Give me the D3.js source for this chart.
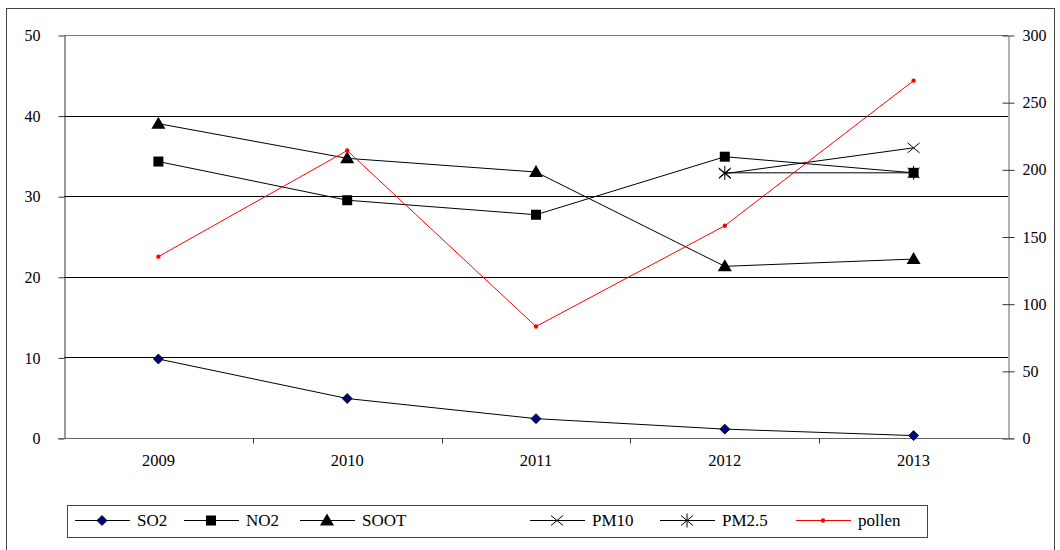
<!DOCTYPE html>
<html>
<head>
<meta charset="utf-8">
<script src="https://cdn.jsdelivr.net/npm/d3@7"></script>
<style>
  body { margin: 0; background: #fff; }
  svg text { font-family: "Liberation Serif", "Times New Roman", serif; fill: #000; }
</style>
</head>
<body>
<div id="chart"></div>
<script>
// data
var years = ["2009", "2010", "2011", "2012", "2013"];
var so2 = [9.8, 4.9, 2.4, 1.1, 0.3];
var no2 = [34.3, 29.5, 27.7, 34.9, 32.9];
var soot = [39.0, 34.7, 33.0, 21.3, 22.2];
var pm10 = [null, null, null, 32.8, 36.0];
var pm25 = [null, null, null, 32.9, 32.9];
var pollen = [135, 214, 83, 158, 266];   // right axis
var leftTicks = [0, 10, 20, 30, 40, 50];
var rightTicks = [0, 50, 100, 150, 200, 250, 300];

var width = 1060, height = 550;
var plotL = 64, plotR = 1008, plotT = 35, plotB = 438;

var svg = d3.select("#chart").append("svg")
    .attr("width", width)
    .attr("height", height);

// outer frame
svg.append("rect")
    .attr("x", 6.5).attr("y", 8.5)
    .attr("width", 1048).attr("height", 560)
    .attr("fill", "none").attr("stroke", "#444").attr("stroke-width", 1);

var x = d3.scaleBand().domain(years).range([plotL, plotR]).padding(0);
var yL = d3.scaleLinear().domain([0, 50]).range([plotB, plotT]);
var yR = d3.scaleLinear().domain([0, 300]).range([plotB, plotT]);

// gridlines
svg.append("g").selectAll("line")
    .data(leftTicks.filter(function (d) { return d > 0; }))
    .join("line")
    .attr("x1", plotL).attr("x2", plotR)
    .attr("y1", function (d) { return Math.round(yL(d)) + 0.5; })
    .attr("y2", function (d) { return Math.round(yL(d)) + 0.5; })
    .attr("stroke", function (d) { return d == 50 ? "#777" : "#000"; })
    .attr("stroke-width", 1);

// left axis
var leftAxis = svg.append("g")
    .attr("transform", "translate(" + (plotL + 0.5) + ",0.5)")
    .call(d3.axisLeft(yL).tickValues(leftTicks).tickSize(6).tickPadding(18).tickSizeOuter(0));
leftAxis.select(".domain").attr("stroke", "#333");
leftAxis.selectAll(".tick line").attr("stroke", "#333");
leftAxis.selectAll("text").style("font-size", "16px").attr("fill", "#000");

// right axis, ticks cross the line
var rightAxis = svg.append("g")
    .attr("transform", "translate(" + (plotR + 0.5) + ",0.5)")
    .call(d3.axisRight(yR).tickValues(rightTicks).tickSize(6).tickPadding(8).tickSizeOuter(0));
rightAxis.select(".domain").attr("stroke", "#666");
rightAxis.selectAll(".tick line").attr("x1", -6).attr("stroke", "#333");
rightAxis.selectAll("text").style("font-size", "16px").attr("fill", "#000");

// bottom axis: labels centred in bands, ticks on band edges
var xAxis = svg.append("g")
    .attr("transform", "translate(0," + (plotB + 0.5) + ")")
    .call(d3.axisBottom(x).tickSize(0).tickPadding(16));
xAxis.select(".domain").attr("d", "M" + (plotL - 6) + ",0H" + (plotR + 6)).attr("stroke", "#666");
xAxis.selectAll("text").style("font-size", "16.5px").attr("fill", "#000");
xAxis.selectAll(".edge")
    .data(years.slice(1))
    .join("line")
    .attr("class", "edge")
    .attr("x1", function (d) { return Math.round(x(d)) + 0.5; })
    .attr("x2", function (d) { return Math.round(x(d)) + 0.5; })
    .attr("y1", 0).attr("y2", 5)
    .attr("stroke", "#333");

// marker shapes
var sym = {
    diamond: function (g) {
        g.append("path").attr("d", "M0,-5L5,0L0,5L-5,0Z")
            .attr("fill", "#000080").attr("stroke", "#000").attr("stroke-width", 0.8);
    },
    square: function (g) {
        g.append("rect").attr("x", -5).attr("y", -5).attr("width", 10).attr("height", 10).attr("fill", "#000");
    },
    triangle: function (g) {
        g.append("path").attr("d", "M0,-7L7,5L-7,5Z").attr("fill", "#000");
    },
    cross: function (g) {
        g.append("path").attr("d", "M-6,-5L6,5M-6,5L6,-5").attr("stroke", "#000").attr("stroke-width", 1);
    },
    star: function (g) {
        g.append("path").attr("d", "M-6,-5L6,5M-6,5L6,-5M0,-7L0,7").attr("stroke", "#000").attr("stroke-width", 1);
    },
    dot: function (g) {
        g.append("circle").attr("r", 2.2).attr("fill", "#f00");
    }
};

var series = [
    { name: "SO2", values: so2, scale: yL, color: "#000", mark: "diamond" },
    { name: "NO2", values: no2, scale: yL, color: "#000", mark: "square" },
    { name: "SOOT", values: soot, scale: yL, color: "#000", mark: "triangle" },
    { name: "PM10", values: pm10, scale: yL, color: "#000", mark: "cross" },
    { name: "PM2.5", values: pm25, scale: yL, color: "#000", mark: "star" },
    { name: "pollen", values: pollen, scale: yR, color: "#f00", mark: "dot" }
];

var cx = function (i) { return x(years[i]) + x.bandwidth() / 2; };

series.forEach(function (s) {
    var line = d3.line()
        .defined(function (d) { return d != null; })
        .x(function (d, i) { return cx(i); })
        .y(function (d) { return s.scale(d); });

    svg.append("path")
        .datum(s.values)
        .attr("d", line)
        .attr("fill", "none")
        .attr("stroke", s.color)
        .attr("stroke-width", 1);

    s.values.forEach(function (v, i) {
        if (v == null) return;
        var g = svg.append("g").attr("transform", "translate(" + cx(i) + "," + s.scale(v) + ")");
        sym[s.mark](g);
    });
});

// legend
var legend = svg.append("g");
legend.append("rect")
    .attr("x", 67.5).attr("y", 505.5).attr("width", 860).attr("height", 32)
    .attr("fill", "#fff").attr("stroke", "#444");

var legendX = [75, 184, 300, 530, 660, 796];
series.forEach(function (s, i) {
    var g = legend.append("g").attr("transform", "translate(" + legendX[i] + ",520)");
    g.append("line").attr("x1", 0).attr("x2", 55).attr("y1", 0.5).attr("y2", 0.5)
        .attr("stroke", s.color).attr("stroke-width", 1);
    var m = g.append("g").attr("transform", "translate(27,0.5)");
    sym[s.mark](m);
    g.append("text").attr("x", 62).attr("y", 0).attr("dy", "0.35em")
        .style("font-size", "17px").text(s.name);
});
</script>
</body>
</html>
